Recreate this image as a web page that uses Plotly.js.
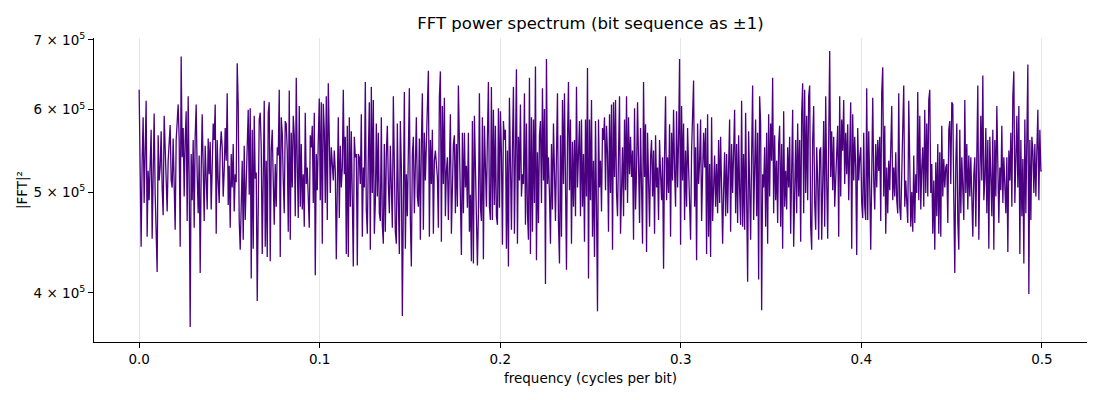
<!DOCTYPE html>
<html>
<head>
<meta charset="utf-8">
<script src="https://cdn.plot.ly/plotly-3.0.1.min.js"></script>
<style>
  html, body { margin: 0; padding: 0; background: #fff; }
  #plot { width: 1100px; height: 400px; }
</style>
</head>
<body>
<div id="plot"></div>
<script>
// |FFT|^2, in units of 1e3, split by frequency band
var band0 = [627, 509, 443, 536, 590, 488, 548, 612, 453, 524,
  491, 548, 574, 451, 550, 595, 499, 441, 419, 567,
  513, 528, 572, 505, 475, 592, 548, 517, 479, 536,
  565, 580, 513, 505, 563, 517, 460, 561, 592, 607,
  561, 443, 675, 540, 576, 495, 561, 598, 469, 618,
  513, 371, 544, 491, 561, 462, 565, 607, 520, 477,
  542, 418, 524, 594, 528, 469, 554, 509, 481, 563,
  520, 559, 481, 528, 582, 561, 607, 456, 561, 513,
  488, 548, 572, 552, 495, 524, 576, 536, 622, 486,
  530, 462, 544, 505, 556, 479, 520, 511, 665, 607,
  469, 440, 513, 536, 450, 554, 470, 520,
  581, 600, 497, 602];
var band1 = [413, 574, 441, 592, 515, 522, 393, 520, 587, 596,
  552, 436, 499, 612, 443, 536, 433, 596, 610, 429,
  548, 574, 513, 465, 532, 484, 552, 542, 627, 433,
  590, 570, 513, 477, 585, 581, 548, 458, 626, 450,
  570, 505, 592, 567, 474, 644, 532, 472, 605, 484,
  556, 481, 520, 463, 596, 509, 528, 479, 462, 567,
  552, 579, 488, 596, 416, 544, 502, 561, 615, 491,
  610, 446, 608, 574, 488, 618, 470, 636, 561, 499,
  552, 536, 513, 548, 524, 431, 548, 590, 472, 554,
  505, 528, 627, 520, 565, 436, 579, 433, 590, 484,
  572, 479, 424, 565, 540, 544, 425, 544, 540, 509];
var band2 = [594, 453, 528, 505, 638, 481, 456, 540, 610, 440,
  631, 499, 613, 456, 488, 582, 495, 570, 477, 469,
  590, 465, 446, 556, 458, 544, 579, 509, 477, 554,
  505, 462, 618, 520, 458, 446, 582, 491, 436, 585,
  528, 380, 561, 624, 441, 520, 474, 548, 629, 470,
  424, 544, 565, 477, 548, 590, 495, 484, 563, 450,
  556, 622, 460, 570, 513, 561, 590, 654, 453, 561,
  509, 574, 456, 536, 548, 532, 517, 462, 616, 653,
  448, 605, 509, 616, 474, 524, 540, 470, 520, 594,
  456, 505, 556, 567, 477, 556, 484, 633, 556, 450,
  435, 570, 477, 570, 505, 530, 483, 570, 458, 497,
  429, 585, 427, 592, 528];
var band3 = [507, 425, 477, 622, 484, 469, 590, 431, 579, 502,
  484, 565, 638, 484, 470, 631, 470, 600, 486, 579,
  474, 465, 602, 483, 598, 544, 445, 585, 561, 574,
  441, 548, 424, 616, 505, 460, 552, 631, 456, 559,
  656, 446, 565, 513, 607, 495, 520, 509, 622, 465,
  582, 477, 450, 644, 436, 590, 458, 587, 488, 660,
  430, 546, 467, 567, 585, 488, 629, 513, 601, 408,
  671, 509, 540, 497, 446, 556, 481, 582, 520, 469,
  544, 622, 467, 427, 567, 453, 613, 509, 622, 513,
  421, 561, 638, 502, 587, 446, 559, 484, 561, 474,
  631, 505, 550, 585, 474, 587, 484, 544, 448, 587,
  495, 658, 413, 587, 491];
var band4 = [613, 453, 536, 433, 585, 484, 384, 587, 505, 536,
  479, 576, 561, 590, 502, 579, 544, 458, 594, 499,
  607, 440, 610, 517, 613, 499, 474, 544, 618, 456,
  520, 552, 474, 587, 502, 618, 488, 590, 520, 565,
  517, 548, 450, 602, 481, 524, 610, 495, 467, 576,
  505, 446, 638, 517, 581, 438, 570, 509, 463, 540,
  561, 495, 548, 456, 567, 505, 528, 470, 561, 520,
  491, 540, 422, 544, 618, 491, 540, 499, 581, 453,
  570, 513, 600, 524, 484, 598, 505, 561, 671, 445,
  605, 513, 582, 470, 548, 484, 576, 528, 495, 450,
  548, 582, 640, 484, 552, 430, 582, 509, 534, 587,
  469, 520, 570, 528];
var band5 = [576, 436, 594, 453, 532, 433, 590, 469, 520, 542,
  484, 532, 477, 561, 488, 565, 505, 446, 502, 546,
  474, 544, 477, 548, 587, 458, 556, 499, 552, 600,
  477, 556, 467, 567, 502, 465, 612, 463, 544, 460,
  596, 499, 410, 572, 491, 450, 544, 633, 470, 520,
  587, 474, 570, 412, 618, 582, 385, 520, 505, 552,
  463, 570, 446, 594, 495, 582, 536, 644, 477, 567,
  491, 536, 467, 556, 579, 463, 556, 441, 598, 484,
  524, 481, 552, 505, 565, 456, 567, 600, 443, 499,
  561, 477, 582, 495, 561, 448, 596, 636, 477, 627,
  499, 592, 491, 618, 633, 463, 440, 561, 605, 488,
  460, 552, 513, 450, 548];
var band6 = [552, 450, 509, 585, 463, 618, 513, 451, 561, 683,
  517, 572, 502, 565, 484, 513, 552, 579, 453, 618,
  495, 587, 548, 613, 509, 570, 520, 581, 491, 540,
  610, 441, 594, 513, 565, 528, 435, 576, 513, 540,
  552, 488, 472, 570, 484, 470, 629, 470, 572, 509,
  440, 520, 616, 513, 481, 556, 505, 561, 524, 565,
  469, 624, 659, 495, 579, 456, 528, 477, 536, 502,
  570, 605, 491, 528, 495, 546, 491, 477, 622, 484,
  470, 548, 576, 633, 484, 513, 484, 467, 612, 513,
  463, 500, 458, 542, 467, 520, 499, 624, 491, 592,
  481, 528, 552, 484, 600, 499, 582, 495, 613, 627,
  499, 532, 456, 513, 440];
var band7 = [534, 474, 556, 456, 546, 453, 579, 495, 538, 505,
  528, 532, 467, 574, 585, 509, 610, 607, 491, 418,
  532, 582, 469, 440, 574, 477, 540, 505, 470, 613,
  499, 556, 481, 542, 495, 540, 505, 453, 520, 540,
  463, 563, 633, 450, 528, 592, 513, 647, 491, 513,
  576, 477, 561, 441, 565, 520, 474, 574, 440, 561,
  495, 605, 505, 467, 528, 502, 579, 488, 540, 509,
  477, 540, 438, 548, 513, 570, 484, 618, 653, 488,
  561, 592, 505, 605, 436, 561, 474, 538, 427, 587,
  477, 612, 663, 399, 561, 470, 565, 548, 499, 556,
  495, 548, 600, 491, 574, 524, 524];

var fMax = 0.5;
var yTickVals = [4e5, 5e5, 6e5, 7e5];
var yTickText = ['4 × 10<sup>5</sup>', '5 × 10<sup>5</sup>', '6 × 10<sup>5</sup>', '7 × 10<sup>5</sup>'];
var xTickVals = [0, 0.1, 0.2, 0.3, 0.4, 0.5];
var xTickText = ['0.0', '0.1', '0.2', '0.3', '0.4', '0.5'];

var powerK = band0.concat(band1, band2, band3, band4, band5, band6, band7);
var power = powerK.map(function(v) { return v * 1000; });

var trace = {
  y: power,
  x0: 0,
  dx: fMax / (power.length - 1),
  type: 'scatter',
  mode: 'lines',
  line: { color: '#4b0082', width: 1.3 },
  hoverinfo: 'x+y'
};

var font = { family: 'DejaVu Sans, sans-serif', size: 13.5, color: '#000' };

var layout = {
  width: 1100,
  height: 400,
  margin: { l: 94, r: 13, t: 38, b: 58 },
  paper_bgcolor: '#fff',
  plot_bgcolor: '#fff',
  font: font,
  showlegend: false,
  title: {
    text: 'FFT power spectrum (bit sequence as ±1)',
    font: { family: 'DejaVu Sans, sans-serif', size: 16.5, color: '#000' },
    x: 0.5, xref: 'paper',
    y: 1 - 23 / 400, yref: 'container', yanchor: 'middle'
  },
  xaxis: {
    range: [-0.025, 0.525],
    tickvals: xTickVals,
    ticktext: xTickText,
    ticks: 'outside', ticklen: 5, tickwidth: 1, tickcolor: '#000',
    showline: true, linecolor: '#000', linewidth: 1, mirror: false,
    showgrid: true, gridcolor: '#e6e6e6', gridwidth: 1,
    zeroline: false,
    title: { text: 'frequency (cycles per bit)', font: font, standoff: 7 }
  },
  yaxis: {
    type: 'log',
    range: [5.5549, 5.8470],
    tickvals: yTickVals,
    ticktext: yTickText,
    ticks: 'outside', ticklen: 5, tickwidth: 1, tickcolor: '#000',
    showline: true, linecolor: '#000', linewidth: 1, mirror: false,
    showgrid: false,
    zeroline: false,
    title: { text: '|FFT|²', font: font, standoff: 2 }
  }
};

Plotly.newPlot('plot', [trace], layout, { displayModeBar: false, staticPlot: true });
</script>
</body>
</html>
